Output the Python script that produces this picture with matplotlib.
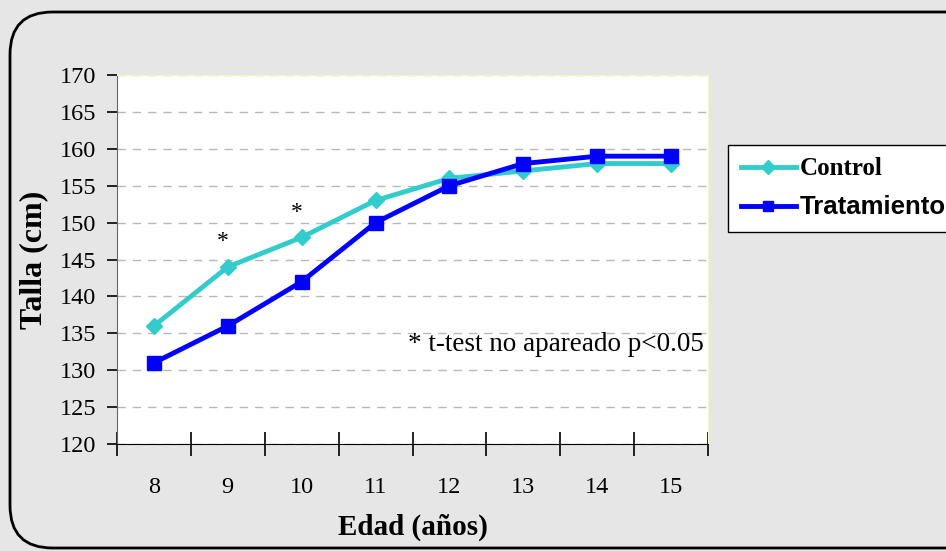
import numpy as np
import matplotlib
matplotlib.use('Agg')
import matplotlib.pyplot as plt
from matplotlib.patches import FancyBboxPatch

# datos
edad = [8, 9, 10, 11, 12, 13, 14, 15]
control = [136, 144, 148, 153, 156, 157, 158, 158]
tratamiento = [131, 136, 142, 150, 155, 158, 159, 159]
signif = [9, 10]   # edades con asterisco

plt.rcParams['font.family'] = ['Liberation Serif', 'DejaVu Serif']

fig = plt.figure(figsize=(9.46, 5.51), dpi=100)
fig.patch.set_facecolor('#e6e6e6')

# marco redondeado
marco = FancyBboxPatch((10/946, 3/551), 1000/946, 536/551,
                       boxstyle='round,pad=0,rounding_size=0.045',
                       transform=fig.transFigure, facecolor='none',
                       edgecolor='black', linewidth=2, mutation_aspect=946/551)
fig.patches.append(marco)

ax = fig.add_axes([117/946, 1-444/551, (708-117)/946, (444-75)/551])
ax.set_facecolor('white')

ax.plot(edad, control, color='#33CCCC', marker='D', markersize=8, linewidth=3.5, label='Control', zorder=3)
ax.plot(edad, tratamiento, color='#0000FF', marker='s', markersize=10, linewidth=3.5, label='Tratamiento', zorder=4)

for e in signif:
    i = edad.index(e)
    ax.text(e - 0.07, control[i] + 2.0, '*', fontsize=17, ha='center', va='bottom')

ax.text(15.45, 133.5, '* t-test no apareado p<0.05', fontsize=19.5, ha='right', va='center')

ax.set_ylim(120, 170)
ax.set_yticks(np.arange(120, 171, 5))
ax.yaxis.grid(True, color='#b8b8b8', linestyle=(0, (6, 5)), linewidth=1)
ax.tick_params(axis='y', direction='out', length=7, width=1.2, labelsize=17.5, pad=8)

ax.set_xlim(7.5, 15.5)
ax.set_xticks(np.arange(7.5, 15.6, 1))
ax.set_xticklabels([])
ax.set_xticks(edad, minor=True)
ax.set_xticklabels([str(e) for e in edad], minor=True)
ax.tick_params(axis='x', which='major', direction='inout', length=17, width=1.2)
ax.tick_params(axis='x', which='minor', length=0, labelsize=17.5, pad=24)

ax.spines['left'].set_color('#6b6b4b')
ax.spines['bottom'].set_color('black')
ax.spines['top'].set_color('#f5f5c8')
ax.spines['right'].set_color('#f5f5c8')
ax.set_axisbelow(True)

ax.set_ylabel('Talla (cm)', fontsize=23, fontweight='bold', labelpad=8)
ax.set_xlabel('Edad (años)', fontsize=21, fontweight='bold', labelpad=11)

leg = fig.legend(loc='upper left', bbox_to_anchor=(728/946, 1-145/551),
                 fontsize=18, frameon=True, fancybox=False, edgecolor='black',
                 framealpha=1, handlelength=2.2, borderpad=0.5, labelspacing=0.6,
                 handletextpad=0.15, borderaxespad=0)
leg.get_frame().set_linewidth(1)
txts = leg.get_texts()
txts[0].set_fontweight('bold')
txts[1].set_family(['Liberation Sans', 'DejaVu Sans'])
txts[1].set_fontweight('bold')
txts[1].set_fontsize(18.5)
for h in leg.legend_handles:
    h.set_markersize(7)

fig.savefig('out.png', dpi=100, facecolor=fig.get_facecolor())
